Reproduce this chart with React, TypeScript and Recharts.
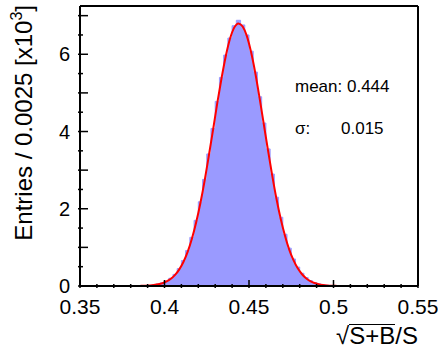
import React from "react";
import { ComposedChart, Area, Line, XAxis, YAxis } from "recharts";

// histogram: 80 bins of 0.0025 from 0.35 to 0.55, entries in thousands
const binStart = 0.35;
const binWidth = 0.0025;
const histValues = [
  0, 0, 0, 0, 0, 0, 0, 0, 0, 0,
  0, 0, 0, 0, 0.002, 0.005, 0.015, 0.03, 0.05, 0.08,
  0.13, 0.2, 0.3, 0.45, 0.66, 0.92, 1.26, 1.7, 2.18, 2.76,
  3.42, 4.08, 4.78, 5.4, 5.98, 6.42, 6.74, 6.88, 6.76, 6.5,
  6.08, 5.54, 4.9, 4.22, 3.55, 2.9, 2.3, 1.78, 1.34, 0.98,
  0.7, 0.49, 0.33, 0.22, 0.14, 0.09, 0.055, 0.032, 0.018, 0.01,
  0.005, 0.002, 0, 0, 0, 0, 0, 0, 0, 0,
  0, 0, 0, 0, 0, 0, 0, 0, 0, 0,
];
// gaussian fit read at bin centres
const fitValues = [
  0, 0, 0, 0, 0, 0, 0, 0, 0, 0,
  0, 0, 0, 0, 0.004, 0.008, 0.014, 0.025, 0.043, 0.072,
  0.117, 0.186, 0.286, 0.43, 0.628, 0.89, 1.23, 1.65, 2.15, 2.73,
  3.38, 4.05, 4.74, 5.38, 5.95, 6.4, 6.69, 6.8, 6.72, 6.47,
  6.05, 5.51, 4.87, 4.19, 3.51, 2.86, 2.26, 1.74, 1.31, 0.95,
  0.675, 0.464, 0.311, 0.203, 0.129, 0.079, 0.048, 0.028, 0.016, 0.008,
  0.004, 0, 0, 0, 0, 0, 0, 0, 0, 0,
  0, 0, 0, 0, 0, 0, 0, 0, 0, 0,
];
const xTicks = Array.from({ length: 21 }, (_, k) => +(0.35 + 0.01 * k).toFixed(2));
const yTicks = Array.from({ length: 15 }, (_, k) => k * 0.5);
const statLines = [
  { label: "mean: 0.444", value: "" },
  { label: "σ:", value: "0.015" },
];

const histData = histValues
  .map((h, i) => ({ x: binStart + binWidth * i, h }))
  .concat([{ x: 0.55, h: histValues[histValues.length - 1] }]);
const fitData = fitValues.map((f, i) => ({ x: binStart + binWidth * (i + 0.5), f }));

const font = "'Liberation Sans', Arial, sans-serif";
const isMajorX = (v: number) => Math.abs(v * 20 - Math.round(v * 20)) < 1e-6;

const BottomTick = (props: any) => {
  const { x, y, payload } = props;
  const major = isMajorX(payload.value);
  return (
    <g>
      <line x1={x} y1={y} x2={x} y2={y - (major ? 8 : 4)} stroke="#000" strokeWidth={1.5} />
      {major && (
        <text x={x} y={y + 26} textAnchor="middle" fontSize={21} fontFamily={font} fill="#000">
          {String(+payload.value.toFixed(2))}
        </text>
      )}
    </g>
  );
};

const TopTick = (props: any) => {
  const { x, y, payload } = props;
  const major = isMajorX(payload.value);
  return <line x1={x} y1={y} x2={x} y2={y + (major ? 8 : 4)} stroke="#000" strokeWidth={1.5} />;
};

const LeftTick = (props: any) => {
  const { x, y, payload } = props;
  const major = payload.value % 1 === 0;
  const labelled = payload.value % 2 === 0;
  return (
    <g>
      <line x1={x} y1={y} x2={x + (major ? 10 : 5)} y2={y} stroke="#000" strokeWidth={1.5} />
      {labelled && (
        <text x={x - 8} y={y} dy="0.36em" textAnchor="end" fontSize={20} fontFamily={font} fill="#000">
          {payload.value}
        </text>
      )}
    </g>
  );
};

export default function App() {
  return (
    <div style={{ position: "absolute", left: 0, top: 0, width: 438, height: 349, background: "#fff" }}>
      <ComposedChart width={438} height={349} margin={{ top: 5, right: 19, left: 79, bottom: 62 }}>
        <XAxis
          dataKey="x"
          type="number"
          domain={[0.35, 0.55]}
          ticks={xTicks}
          height={1}
          tickSize={0}
          tickLine={false}
          interval={0}
          tick={<BottomTick />}
          axisLine={{ stroke: "#000", strokeWidth: 2 }}
          allowDataOverflow
        />
        <XAxis
          xAxisId="top"
          orientation="top"
          dataKey="x"
          type="number"
          domain={[0.35, 0.55]}
          ticks={xTicks}
          height={1}
          tickSize={0}
          tickLine={false}
          interval={0}
          tick={<TopTick />}
          axisLine={{ stroke: "#000", strokeWidth: 2 }}
        />
        <YAxis
          type="number"
          domain={[0, 7.25]}
          ticks={yTicks}
          width={1}
          tickSize={0}
          tickLine={false}
          interval={0}
          tick={<LeftTick />}
          axisLine={{ stroke: "#000", strokeWidth: 2 }}
          allowDataOverflow
        />
        <YAxis
          yAxisId="right"
          orientation="right"
          type="number"
          domain={[0, 7.25]}
          width={1}
          tick={false}
          tickLine={false}
          axisLine={{ stroke: "#000", strokeWidth: 2 }}
        />
        <Area
          data={histData}
          dataKey="h"
          type="stepAfter"
          fill="#9a9aff"
          fillOpacity={1}
          stroke="#9a9aff"
          strokeWidth={1}
          isAnimationActive={false}
        />
        <Line
          data={fitData}
          dataKey="f"
          type="monotone"
          stroke="#ff0000"
          strokeWidth={2}
          dot={false}
          isAnimationActive={false}
        />
      </ComposedChart>
      <svg width={438} height={349} style={{ position: "absolute", left: 0, top: 0, pointerEvents: "none" }}>
        <text
          transform="translate(32,5) rotate(-90)"
          textAnchor="end"
          fontSize={24}
          fontFamily={font}
          fill="#000"
        >
          Entries / 0.0025 [x10
          <tspan dy={-10} fontSize={16}>3</tspan>
          <tspan dy={10}>]</tspan>
        </text>
        {statLines.map((s, i) => (
          <g key={s.label}>
            <text x={295} y={92 + i * 42} fontSize={17} fontFamily={font} fill="#000">
              {s.label}
            </text>
            {s.value && (
              <text x={341} y={92 + i * 42} fontSize={17} fontFamily={font} fill="#000">
                {s.value}
              </text>
            )}
          </g>
        ))}
      </svg>
      <div
        style={{
          position: "absolute",
          right: 20,
          top: 322,
          fontFamily: font,
          fontSize: 24,
          lineHeight: "28px",
          color: "#000",
          whiteSpace: "nowrap",
        }}
      >
        <span>√</span>
        <span style={{ display: "inline-block", lineHeight: "22px", borderTop: "1.5px solid #000" }}>S+B</span>
        <span>/S</span>
      </div>
    </div>
  );
}
